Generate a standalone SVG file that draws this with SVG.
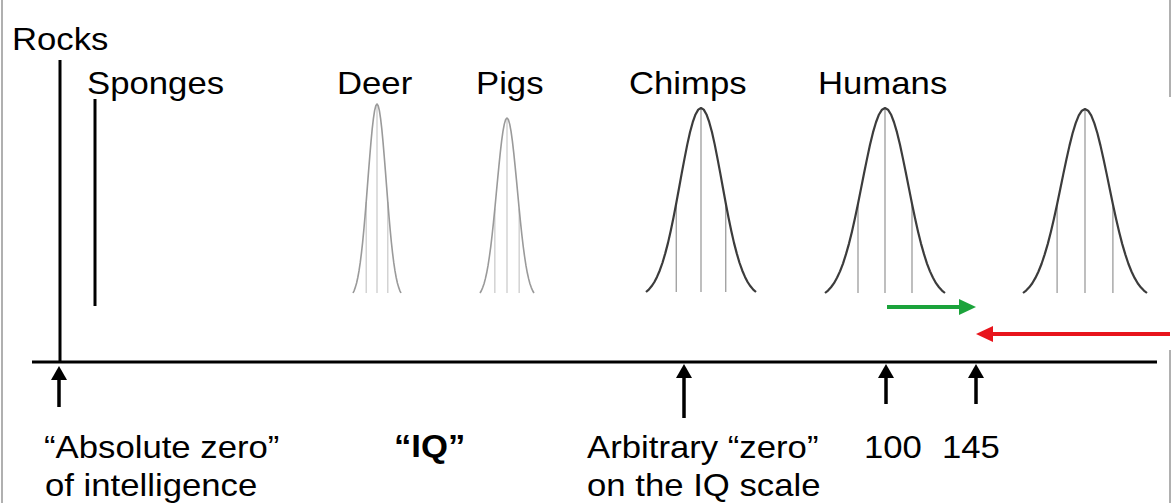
<svg xmlns="http://www.w3.org/2000/svg" xmlns:xlink="http://www.w3.org/1999/xlink" width="1173" height="503" viewBox="0 0 1173 503">
<style>
text{font-family:"Liberation Sans",Arial,sans-serif;font-size:31px;fill:#000}
.b{font-weight:bold}
.ax{stroke:#000;stroke-width:3;fill:none}
.ptr{stroke:#000;stroke-width:3.5;fill:none}
.hd{fill:#000}
.ns{vector-effect:non-scaling-stroke;fill:none}
.sig{stroke-width:1.2;stroke-opacity:0.55}
.light{stroke:#9a9a9a;stroke-width:1.6}
.dark{stroke:#3c3c3c;stroke-width:2.2}
.frame{stroke:#b0b0b0;stroke-width:2}
</style>
<defs>
<g id="bell">
<path class="ns" stroke-linejoin="round" d="M-1,1 L-0.95,0.987 -0.9,0.969 -0.85,0.947 -0.8,0.918 -0.75,0.883 -0.7,0.841 -0.65,0.790 -0.6,0.733 -0.55,0.667 -0.5,0.595 -0.45,0.518 -0.4,0.436 -0.35,0.354 -0.3,0.275 -0.25,0.199 -0.2,0.132 -0.15,0.077 -0.1,0.035 -0.05,0.009 0,0 0.05,0.009 0.1,0.035 0.15,0.077 0.2,0.132 0.25,0.199 0.3,0.275 0.35,0.354 0.4,0.436 0.45,0.518 0.5,0.595 0.55,0.667 0.6,0.733 0.65,0.790 0.7,0.841 0.75,0.883 0.8,0.918 0.85,0.947 0.9,0.969 0.95,0.987 1,1"/>
<line class="ns sig" x1="0" y1="0" x2="0" y2="1"/>
<line class="ns sig" x1="-0.45" y1="0.518" x2="-0.45" y2="1"/>
<line class="ns sig" x1="0.45" y1="0.518" x2="0.45" y2="1"/>
</g>
</defs>
<rect width="1173" height="503" fill="#fff"/>
<g id="frame">
<line class="frame" x1="2" y1="0" x2="2" y2="503"/>
<line class="frame" x1="1170" y1="0" x2="1170" y2="97"/>
<line class="frame" x1="1170" y1="350" x2="1170" y2="503"/>
</g>
<g id="rocks">
<text transform="translate(12,50) scale(1.12,1)">Rocks</text>
<line class="ax" x1="60" y1="60" x2="60" y2="362"/>
</g>
<g id="sponges">
<text transform="translate(87,94) scale(1.12,1)">Sponges</text>
<line class="ax" x1="95" y1="99" x2="95" y2="306"/>
</g>
<g id="deer">
<text transform="translate(337,94) scale(1.12,1)">Deer</text>
<use xlink:href="#bell" class="light" transform="translate(377,104) scale(24,189)"/>
</g>
<g id="pigs">
<text transform="translate(476,94) scale(1.12,1)">Pigs</text>
<use xlink:href="#bell" class="light" transform="translate(507,118) scale(27,175)"/>
</g>
<g id="chimps">
<text transform="translate(629,94) scale(1.12,1)">Chimps</text>
<use xlink:href="#bell" class="dark" transform="translate(701,108) scale(55,184)"/>
</g>
<g id="humans">
<text transform="translate(818,94) scale(1.12,1)">Humans</text>
<use xlink:href="#bell" class="dark" transform="translate(885,108) scale(60,185)"/>
</g>
<g id="future">
<use xlink:href="#bell" class="dark" transform="translate(1085,109) scale(62,184)"/>
</g>
<g id="axis">
<line class="ax" x1="32" y1="362" x2="1157" y2="362"/>
</g>
<g id="connectors">
<line class="ptr" x1="59" y1="377" x2="59" y2="407"/>
<polygon class="hd" points="59,366 51,380 67,380"/>
<line class="ptr" x1="684" y1="377" x2="684" y2="418"/>
<polygon class="hd" points="684,364 676,378 692,378"/>
<line class="ptr" x1="886" y1="377" x2="886" y2="404"/>
<polygon class="hd" points="886,364 878,378 894,378"/>
<line class="ptr" x1="976" y1="377" x2="976" y2="404"/>
<polygon class="hd" points="976,364 968,378 984,378"/>
<line x1="887" y1="307" x2="962" y2="307" stroke="#1ba33b" stroke-width="4"/>
<polygon points="976,307 959,299 959,315" fill="#1ba33b"/>
<line x1="990" y1="334" x2="1170" y2="334" stroke="#e8141c" stroke-width="4"/>
<polygon points="976,334 993,326 993,342" fill="#e8141c"/>
</g>
<g id="labels">
<text transform="translate(44,458) scale(1.12,1)">“Absolute zero”</text>
<text transform="translate(45,496) scale(1.12,1)">of intelligence</text>
<text class="b" transform="translate(394,457) scale(1.12,1)">“IQ”</text>
<text transform="translate(587,458) scale(1.12,1)">Arbitrary “zero”</text>
<text transform="translate(587,496) scale(1.12,1)">on the IQ scale</text>
<text transform="translate(864,458) scale(1.12,1)">100</text>
<text transform="translate(942,458) scale(1.12,1)">145</text>
</g>
</svg>
